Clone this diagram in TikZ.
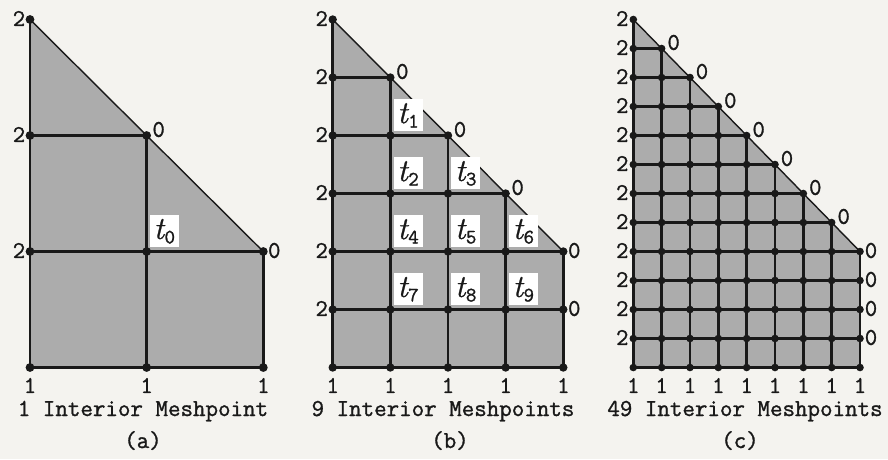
\documentclass[tikz,border=0pt]{standalone}
\usepackage{fontspec}
\newfontfamily\labtt{Latin Modern Mono}[FakeBold=1.2]
\newfontfamily\labit{Latin Modern Roman}[FakeBold=0.8]
\usetikzlibrary{calc}
\definecolor{paper}{RGB}{244,243,239}
\definecolor{meshgray}{RGB}{172,172,172}
\definecolor{ink}{RGB}{25,25,25}
\newcommand{\tlab}[1]{{\labit\itshape t}\kern0.5pt\raisebox{-4.5pt}{\fontsize{20.5}{21}\selectfont\labtt #1}}
\tikzset{
  numlab/.style={inner sep=0pt, anchor=center, text=ink, font=\labtt\fontsize{24}{26}\selectfont},
  tbox/.style={fill=white, inner sep=0pt, minimum width=29pt, minimum height=32pt, anchor=south west, text=ink, font=\fontsize{32}{33}\selectfont},
  caplab/.style={inner sep=0pt, anchor=base, text=ink, font=\labtt\fontsize{24.3}{28}\selectfont}
}
% #1 prefix, #2 left x, #3 cells across, #4 line width, #5 dot radius, #6 width
\newcommand{\meshpanel}[6]{%
  \pgfmathsetmacro\cw{#6/#3}%
  \pgfmathsetmacro\chh{348/(1.5*#3)}%
  \pgfmathtruncatemacro\Nn{#3}%
  \pgfmathtruncatemacro\Rr{1.5*#3}%
  \pgfmathtruncatemacro\Rm{\Rr-1}%
  \pgfmathtruncatemacro\Nm{\Nn-1}%
  \foreach \j in {0,...,\Rr}{%
    \pgfmathtruncatemacro\imax{min(\j,\Nn)}%
    \foreach \i in {0,...,\imax}{%
      \coordinate (#1-\i-\j) at ({#2+\i*\cw},{19.5+\j*\chh});%
    }%
  }%
  \fill[meshgray] (#1-0-0) -- (#1-\Nn-\Nn) -- (#1-\Nn-\Rr) -- (#1-0-\Rr) -- cycle;%
  \foreach \j in {1,...,\Rr}{%
    \pgfmathtruncatemacro\imax{min(\j,\Nn)}%
    \draw[ink, line width=#4] (#1-0-\j) -- (#1-\imax-\j);%
  }%
  \foreach \i in {0,...,\Nn}{%
    \draw[ink, line width=#4] (#1-\i-\i) -- (#1-\i-\Rr);%
  }%
  \draw[ink, line width=1.4pt] (#1-0-0) -- (#1-\Nn-\Nn);%
  \foreach \j in {0,...,\Rr}{%
    \pgfmathtruncatemacro\imax{min(\j,\Nn)}%
    \foreach \i in {0,...,\imax}{%
      \fill[ink] (#1-\i-\j) circle[radius=#5];%
    }%
  }%
  \foreach \j in {0,...,\Rm}{%
    \node[numlab] (#1-two-\j) at ($(#1-0-\j)+(-11,-1)$) {2};%
  }%
  \foreach \j in {1,...,\Nm}{%
    \node[numlab] (#1-zh-\j) at ($(#1-\j-\j)+(12,-6)$) {0};%
  }%
  \foreach \j in {\Nn,...,\Rm}{%
    \node[numlab] (#1-zr-\j) at ($(#1-\Nn-\j)+(11,-1)$) {0};%
  }%
  \foreach \i in {0,...,\Nn}{%
    \node[numlab] (#1-one-\i) at ($(#1-\i-\Rr)+(0,18)$) {1};%
  }%
}
\begin{document}
\begin{tikzpicture}[x=1pt,y=-1pt]
\useasboundingbox (0,0) rectangle (888,459);
\fill[paper] (0,0) rectangle (888,459);

\meshpanel{a}{30}{2}{2.8pt}{4.4pt}{233.3}
\meshpanel{b}{332.7}{4}{2.8pt}{4.2pt}{230.6}
\meshpanel{c}{633.3}{8}{2.4pt}{3.8pt}{226.7}

% t labels
\node[tbox] (t0) at ($(a-1-2)+(3,-4)$) {\tlab{0}};
\node[tbox] (t1) at ($(b-1-2)+(3,-4)$) {\tlab{1}};
\node[tbox] (t2) at ($(b-1-3)+(3,-4)$) {\tlab{2}};
\node[tbox] (t3) at ($(b-2-3)+(3,-4)$) {\tlab{3}};
\node[tbox] (t4) at ($(b-1-4)+(3,-4)$) {\tlab{4}};
\node[tbox] (t5) at ($(b-2-4)+(3,-4)$) {\tlab{5}};
\node[tbox] (t6) at ($(b-3-4)+(3,-4)$) {\tlab{6}};
\node[tbox] (t7) at ($(b-1-5)+(3,-4)$) {\tlab{7}};
\node[tbox] (t8) at ($(b-2-5)+(3,-4)$) {\tlab{8}};
\node[tbox] (t9) at ($(b-3-5)+(3,-4)$) {\tlab{9}};

% captions
\node[caplab] (capa) at (143,416) {1 Interior Meshpoint};
\node[caplab] (laba) at (143,448) {(a)};
\node[caplab] (capb) at (443,416) {9 Interior Meshpoints};
\node[caplab] (labb) at (450,448) {(b)};
\node[caplab] (capc) at (745,416) {49 Interior Meshpoints};
\node[caplab] (labc) at (740,448) {(c)};
\end{tikzpicture}
\end{document}
